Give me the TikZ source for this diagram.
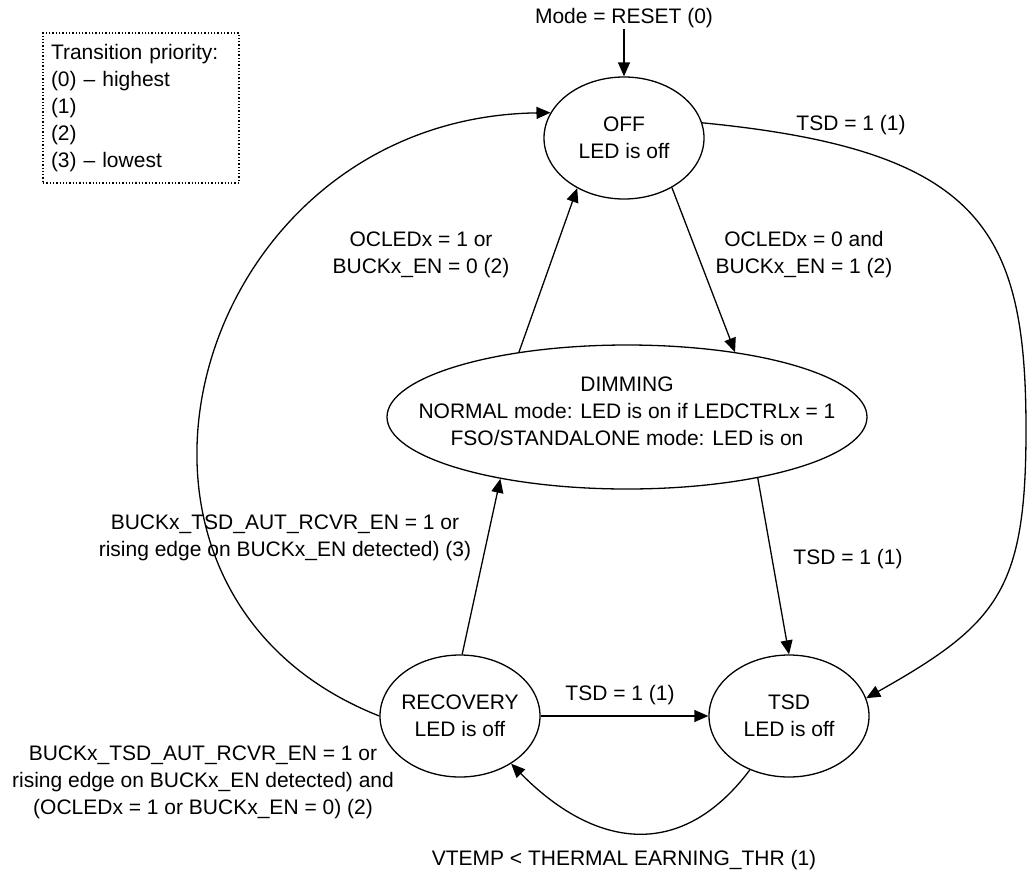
\documentclass[tikz,border=0pt]{standalone}
\usepackage{fontspec}
\setmainfont{Liberation Sans}
\usetikzlibrary{arrows.meta,shapes}

\tikzset{
  state/.style={draw, ellipse, minimum width=160pt, minimum height=122pt, inner sep=0pt},
  txt/.style={align=center, inner sep=1pt},
  legendbox/.style={draw, dotted, align=left, text width=180pt, inner xsep=8pt, minimum height=150pt}
}

\begin{document}
\begin{tikzpicture}[x=1pt,y=-1pt,line width=1.3pt,
  font=\fontsize{21pt}{27pt}\selectfont,
  >={Triangle[length=14pt,width=12pt]}]
  \useasboundingbox (0,0) rectangle (1027,873);

  \node[legendbox] (prio) at (141,108) {Transition priority:\\(0) -- highest\\(1)\\(2)\\(3) -- lowest}; %Draw priority legend

  \node[state] (off) at (624,138) {}; %Draw OFF state
  \node[txt] (offtxt) at (off) {OFF\\LED is off};
  \node[state, minimum width=480pt, minimum height=144pt] (dim) at (627,417) {}; %Draw DIMMING state
  \node[txt] (dimtxt) at (627,411) {DIMMING\\NORMAL mode: LED is on if LEDCTRLx = 1\\FSO/STANDALONE mode: LED is on};
  \node[state] (rec) at (460,716) {}; %Draw RECOVERY state
  \node[txt] (rectxt) at (rec) {RECOVERY\\LED is off};
  \node[state] (tsd) at (789,716) {}; %Draw TSD state
  \node[txt] (tsdtxt) at (tsd) {TSD\\LED is off};

  \node[txt] (reset) at (624,18) {Mode = RESET (0)}; %Reset entry
  \draw[->] (reset.south) -- (off.north);

  \draw[->] (off.-46) -- (dim.31); %OFF to DIMMING
  \node[txt] (offdim) at (804,255) {OCLEDx = 0 and\\BUCKx\_EN = 1 (2)};
  \draw[->] (dim.149) -- (off.227); %DIMMING to OFF
  \node[txt] (dimoff) at (421,255) {OCLEDx = 1 or\\BUCKx\_EN = 0 (2)};

  \draw[->] (off.11) .. controls (982,150) and (1026,230) .. (1026,430)
    .. controls (1026,590) and (998,624) .. (tsd.13); %OFF to TSD
  \node[txt] (offtsd) at (851,125) {TSD = 1 (1)};
  \draw[->] (dim.-25) -- (tsd.north); %DIMMING to TSD
  \node[txt] (dimtsd) at (848,559) {TSD = 1 (1)};
  \draw[->] (rec.east) -- (tsd.west); %RECOVERY to TSD
  \node[txt] (rectsd) at (620,695) {TSD = 1 (1)};

  \draw[->] (tsd.234) .. controls (679,864) and (592,846) .. (rec.-43); %TSD to RECOVERY
  \node[txt] (tsdrec) at (624,860) {VTEMP < THERMAL EARNING\_THR (1)};

  \draw[->] (rec.88) -- (dim.206); %RECOVERY to DIMMING
  \node[txt] (recdim) at (285,538) {BUCKx\_TSD\_AUT\_RCVR\_EN = 1 or\\rising edge on BUCKx\_EN detected) (3)};
  \draw[->] (rec.west) .. controls (60,590) and (190,118) .. (off.161); %RECOVERY to OFF
  \node[txt] (recoff) at (203,782) {BUCKx\_TSD\_AUT\_RCVR\_EN = 1 or\\rising edge on BUCKx\_EN detected) and\\(OCLEDx = 1 or BUCKx\_EN = 0) (2)};
\end{tikzpicture}
\end{document}
